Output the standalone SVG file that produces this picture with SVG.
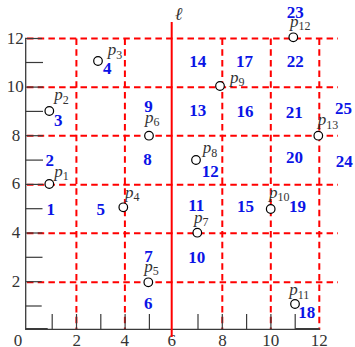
<svg xmlns="http://www.w3.org/2000/svg" width="355" height="347" viewBox="0 0 355 347">
<style>
.ax{stroke:#3a3a3a;stroke-width:1.3;fill:none}
.tk{stroke:#3a3a3a;stroke-width:1.2}
.grid{stroke:#ff0000;stroke-width:2;stroke-dasharray:6.5 4.2;fill:none}
.ell{stroke:#ff0000;stroke-width:2}
.num{font-family:"Liberation Serif",serif;font-size:17px;fill:#333}
.reg{font-family:"Liberation Serif",serif;font-size:17px;font-weight:bold;fill:#0a14e6}
.pl{font-family:"Liberation Serif",serif;font-size:17px;font-style:italic;fill:#333}
.sub{font-size:12px;font-style:normal}
.pt{fill:#fff;stroke:#000;stroke-width:1.2}
</style>
<g id="grid">
<line class="grid" x1="27" y1="38.5" x2="338" y2="38.5"/>
<line class="grid" x1="27" y1="87.3" x2="338" y2="87.3"/>
<line class="grid" x1="27" y1="135.8" x2="338" y2="135.8"/>
<line class="grid" x1="27" y1="184.7" x2="338" y2="184.7"/>
<line class="grid" x1="27" y1="233.3" x2="338" y2="233.3"/>
<line class="grid" x1="27" y1="282.2" x2="338" y2="282.2"/>
<line class="grid" x1="76.4" y1="38.5" x2="76.4" y2="330"/>
<line class="grid" x1="124.9" y1="38.5" x2="124.9" y2="330"/>
<line class="grid" x1="222.3" y1="38.5" x2="222.3" y2="330"/>
<line class="grid" x1="270.8" y1="38.5" x2="270.8" y2="330"/>
<line class="grid" x1="319.3" y1="38.5" x2="319.3" y2="330"/>
</g>
<g id="axes">
<line class="ax" x1="25.7" y1="37.8" x2="25.7" y2="329.3"/>
<line class="ax" x1="25.1" y1="329.3" x2="319.5" y2="329.3"/>
<line x1="25.7" y1="329" x2="47.7" y2="329" stroke="#3a3a3a" stroke-width="2"/>
<line x1="295.2" y1="329" x2="319.5" y2="329" stroke="#3a3a3a" stroke-width="2"/>
<g class="tk">
<line x1="25.7" y1="306" x2="41.7" y2="306"/>
<line x1="25.7" y1="281.7" x2="41.7" y2="281.7"/>
<line x1="25.7" y1="257.3" x2="42.5" y2="257.3"/>
<line x1="25.7" y1="233" x2="42.5" y2="233"/>
<line x1="25.7" y1="208.7" x2="42.5" y2="208.7"/>
<line x1="25.7" y1="184.4" x2="43" y2="184.4"/>
<line x1="25.7" y1="160.1" x2="43" y2="160.1"/>
<line x1="25.7" y1="135.7" x2="43" y2="135.7"/>
<line x1="25.7" y1="111.4" x2="43" y2="111.4"/>
<line x1="25.7" y1="87.1" x2="43" y2="87.1"/>
<line x1="25.7" y1="62.5" x2="43" y2="62.5"/>
<line x1="25.7" y1="38.5" x2="42" y2="38.5"/>
<line x1="52.2" y1="314" x2="52.2" y2="329.3"/>
<line x1="76.5" y1="314" x2="76.5" y2="329.3"/>
<line x1="100.8" y1="314" x2="100.8" y2="329.3"/>
<line x1="125.1" y1="314" x2="125.1" y2="329.3"/>
<line x1="149.4" y1="314" x2="149.4" y2="329.3"/>
<line x1="198" y1="314" x2="198" y2="329.3"/>
<line x1="222.3" y1="314" x2="222.3" y2="329.3"/>
<line x1="246.6" y1="314" x2="246.6" y2="329.3"/>
<line x1="270.9" y1="314" x2="270.9" y2="329.3"/>
<line x1="295.2" y1="314" x2="295.2" y2="329.3"/>
</g>
<g class="num" text-anchor="middle">
<text x="15.3" y="43.7">12</text>
<text x="15.3" y="92.3">10</text>
<text x="16" y="140.7">8</text>
<text x="16" y="189.4">6</text>
<text x="16" y="238">4</text>
<text x="16" y="286.8">2</text>
<text x="18" y="345.8">0</text>
<text x="76.8" y="345.8">2</text>
<text x="124.7" y="345.8">4</text>
<text x="171.7" y="345.8">6</text>
<text x="222.5" y="345.8">8</text>
<text x="270.8" y="345.8">10</text>
<text x="319.2" y="345.8">12</text>
</g>
</g>
<g id="line-l">
<line class="ell" x1="171.7" y1="22" x2="171.7" y2="337"/>
<text x="174.8" y="19.5" font-family="DejaVu Serif,serif" font-style="italic" font-size="18" fill="#333">ℓ</text>
</g>
<g id="regions" class="reg">
<text x="46.5" y="215">1</text>
<text x="45.5" y="165.7">2</text>
<text x="54" y="125.5">3</text>
<text x="103" y="74">4</text>
<text x="96.5" y="215">5</text>
<text x="144" y="309.3">6</text>
<text x="144.3" y="261.7">7</text>
<text x="143.3" y="165">8</text>
<text x="144.3" y="112">9</text>
<text x="188.3" y="263.3">10</text>
<text x="188.3" y="211">11</text>
<text x="201.7" y="176.7">12</text>
<text x="189.3" y="115.5">13</text>
<text x="189.3" y="66.7">14</text>
<text x="237" y="212.3">15</text>
<text x="236.5" y="116.5">16</text>
<text x="236" y="66.7">17</text>
<text x="298.3" y="318.3">18</text>
<text x="289" y="212.3">19</text>
<text x="286" y="163.3">20</text>
<text x="285.7" y="118">21</text>
<text x="286.7" y="66.7">22</text>
<text x="286.7" y="18.3">23</text>
<text x="335.7" y="166.7">24</text>
<text x="335" y="114.3">25</text>
</g>
<g id="p1"><circle class="pt" cx="49.3" cy="184" r="4.3"/><text class="pl" x="54.3" y="176.7">p<tspan class="sub" dy="3.5">1</tspan></text></g>
<g id="p2"><circle class="pt" cx="49.3" cy="111" r="4.3"/><text class="pl" x="54.3" y="100">p<tspan class="sub" dy="3.5">2</tspan></text></g>
<g id="p3"><circle class="pt" cx="98" cy="61" r="4.3"/><text class="pl" x="107.7" y="55">p<tspan class="sub" dy="3.5">3</tspan></text></g>
<g id="p4"><circle class="pt" cx="123.3" cy="207.3" r="4.3"/><text class="pl" x="125" y="197.5">p<tspan class="sub" dy="3.5">4</tspan></text></g>
<g id="p5"><circle class="pt" cx="148.3" cy="282.3" r="4.3"/><text class="pl" x="144.3" y="271.5">p<tspan class="sub" dy="3.5">5</tspan></text></g>
<g id="p6"><circle class="pt" cx="149" cy="135.7" r="4.3"/><text class="pl" x="145" y="122.5">p<tspan class="sub" dy="3.5">6</tspan></text></g>
<g id="p7"><circle class="pt" cx="197.3" cy="232.7" r="4.3"/><text class="pl" x="194" y="222.5">p<tspan class="sub" dy="3.5">7</tspan></text></g>
<g id="p8"><circle class="pt" cx="196" cy="160" r="4.3"/><text class="pl" x="202.7" y="153">p<tspan class="sub" dy="3.5">8</tspan></text></g>
<g id="p9"><circle class="pt" cx="220" cy="86" r="4.3"/><text class="pl" x="230" y="82.5">p<tspan class="sub" dy="3.5">9</tspan></text></g>
<g id="p10"><circle class="pt" cx="270.7" cy="209" r="4.3"/><text class="pl" x="269" y="197.5">p<tspan class="sub" dy="3.5">10</tspan></text></g>
<g id="p11"><circle class="pt" cx="295" cy="304" r="4.3"/><text class="pl" x="289.3" y="295">p<tspan class="sub" dy="3.5">11</tspan></text></g>
<g id="p12"><circle class="pt" cx="293.3" cy="37.3" r="4.3"/><text class="pl" x="290" y="26.5">p<tspan class="sub" dy="3.5">12</tspan></text></g>
<g id="p13"><circle class="pt" cx="318.3" cy="135.7" r="4.3"/><text class="pl" x="317.7" y="125">p<tspan class="sub" dy="3.5">13</tspan></text></g>
</svg>
